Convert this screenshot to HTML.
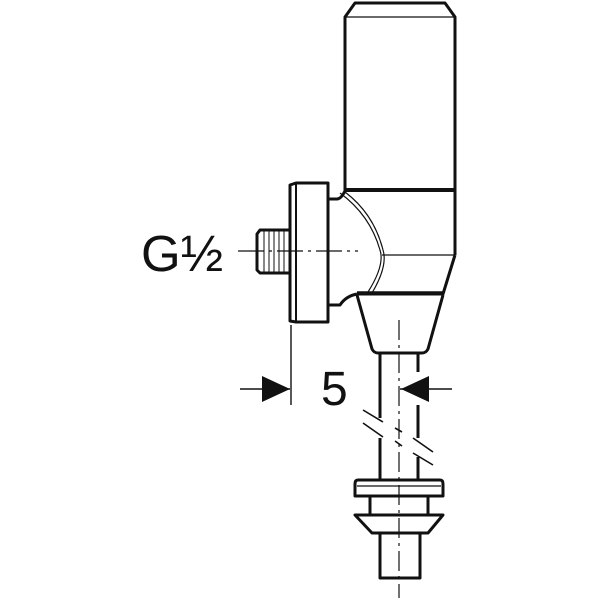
<!DOCTYPE html>
<html><head><style>body{margin:0;background:#fff}svg{display:block}</style></head><body>
<svg width="600" height="600" viewBox="0 0 600 600" xmlns="http://www.w3.org/2000/svg">
<g fill="none" stroke="#111" stroke-linejoin="round">
<path d="M345,191 L345,17 L355,3 L445,3 L455,17 L455,255" stroke-width="3"/>
<line x1="345" y1="17" x2="455" y2="17" stroke-width="1.2"/>
<line x1="345" y1="190" x2="455" y2="190" stroke-width="4"/>
<path d="M455,255 L443,294 L357,294" stroke-width="3"/>
<line x1="382" y1="255" x2="455" y2="255" stroke-width="1.2"/>
<line x1="357" y1="293" x2="443" y2="293" stroke-width="3.5"/>
<path d="M328,199 L337,199 Q341,199 345,191" stroke-width="3"/>
<path d="M328,305 L340,305 Q346,296 357,294" stroke-width="3"/>
<path d="M340,193 Q370,215 380,250 Q385,265 368,292" stroke-width="1.2"/>
<path d="M345,192 Q374,214 383,250 Q388,266 372,293" stroke-width="1.2"/>
<path d="M290,185 L296,183 L328,183 L328,322 L296,322 L290,321 Z" stroke-width="3"/>
<line x1="296" y1="184" x2="296" y2="321" stroke-width="2"/>
<path d="M290,230 L260,230 L257,234 L257,270 L260,273 L290,273" stroke-width="3"/>
<g stroke-width="1">
<line x1="264" y1="231" x2="264" y2="272"/><line x1="269" y1="231" x2="269" y2="272"/><line x1="274" y1="231" x2="274" y2="272"/><line x1="279" y1="231" x2="279" y2="272"/><line x1="284" y1="231" x2="284" y2="272"/>
</g>
<line x1="238" y1="251" x2="358" y2="251" stroke-width="1.2" stroke-dasharray="26,5,3,5"/>
<path d="M357,295 L372,349 Q374,353 378,353 L422,353 Q426,353 428,349 L443,295" stroke-width="3"/>
<line x1="380" y1="353" x2="380" y2="418" stroke-width="3"/>
<line x1="418" y1="353" x2="418" y2="372" stroke-width="3"/>
<line x1="418" y1="405" x2="418" y2="438" stroke-width="3"/>
<line x1="380" y1="438" x2="380" y2="480" stroke-width="3"/>
<line x1="418" y1="457" x2="418" y2="480" stroke-width="3"/>
<g stroke-width="1.6">
<line x1="363" y1="410" x2="383" y2="422"/><line x1="363" y1="423" x2="383" y2="437"/>
<line x1="395" y1="428" x2="402" y2="432"/><line x1="395" y1="441" x2="402" y2="446"/>
<line x1="413" y1="438" x2="433" y2="452"/><line x1="413" y1="453" x2="433" y2="465"/>
</g>
<path d="M358,480 L440,480 Q443,480 443,484 L443,496 L355,496 L355,484 Q355,480 358,480 Z" stroke-width="3"/>
<line x1="357" y1="486" x2="441" y2="486" stroke-width="1.2"/>
<path d="M370,496 L370,515 M428,496 L428,515" stroke-width="3"/>
<path d="M355,515 L443,515 L428,533 L372,533 Z" stroke-width="3"/>
<path d="M380,533 L380,578 L420,578 L420,533" stroke-width="3"/>
<line x1="399" y1="320" x2="399" y2="598" stroke-width="1.2" stroke-dasharray="20,5,3,5"/>
<line x1="291" y1="325" x2="291" y2="405" stroke-width="1.4"/>
<line x1="240" y1="389" x2="290" y2="389" stroke-width="1.4"/>
<line x1="400" y1="389" x2="452" y2="389" stroke-width="1.4"/>
</g>
<polygon points="290,389 262,376 262,402" fill="#111"/>
<polygon points="401,389 429,376 429,402" fill="#111"/>
<text x="141" y="271" font-family="Liberation Sans, sans-serif" font-size="51" fill="#111">G½</text>
<text x="321" y="405" font-family="Liberation Sans, sans-serif" font-size="48" fill="#111">5</text>
</svg>
</body></html>
